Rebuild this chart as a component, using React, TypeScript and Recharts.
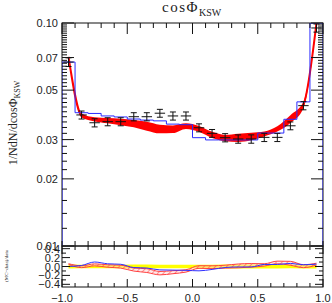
import React from 'react';
import { ComposedChart, Line, Area, Scatter, ErrorBar, XAxis, YAxis } from 'recharts';

// cos(phi_KSW) distribution: 20 bins from -1 to 1
const binCenters = [-0.95, -0.85, -0.75, -0.65, -0.55, -0.45, -0.35, -0.25, -0.15, -0.05, 0.05, 0.15, 0.25, 0.35, 0.45, 0.55, 0.65, 0.75, 0.85, 0.95];
const binEdges = [-1, -0.9, -0.8, -0.7, -0.6, -0.5, -0.4, -0.3, -0.2, -0.1, 0, 0.1, 0.2, 0.3, 0.4, 0.5, 0.6, 0.7, 0.8, 0.9, 1];

const dataValues = [0.0668, 0.0387, 0.0357, 0.0361, 0.0361, 0.038, 0.038, 0.0394, 0.0383, 0.0383, 0.0339, 0.032, 0.0306, 0.0302, 0.0302, 0.0307, 0.0307, 0.0346, 0.0426, 0.095];
const dataErrors = [0.003, 0.0016, 0.0015, 0.0015, 0.0015, 0.0016, 0.0016, 0.0016, 0.0016, 0.0016, 0.0014, 0.0013, 0.0013, 0.0013, 0.0013, 0.0013, 0.0013, 0.0014, 0.0018, 0.004];
const binHalfWidth = 0.04;

const blueValues = [0.0668, 0.0396, 0.0393, 0.0383, 0.0379, 0.0371, 0.0367, 0.0364, 0.0352, 0.035, 0.0306, 0.0299, 0.0299, 0.0299, 0.0299, 0.0321, 0.0321, 0.037, 0.0443, 0.1];

const redCentral = [0.0705, 0.0385, 0.037, 0.0365, 0.036, 0.0354, 0.0345, 0.0335, 0.0334, 0.0345, 0.0335, 0.0315, 0.0305, 0.0306, 0.031, 0.0318, 0.0335, 0.0371, 0.0429, 0.1];
const redSpread = [0.0005, 0.0008, 0.0008, 0.001, 0.0012, 0.0013, 0.0016, 0.0015, 0.0013, 0.001, 0.001, 0.001, 0.001, 0.0013, 0.0012, 0.0008, 0.0009, 0.0015, 0.0014, 0.002];

const yMajorTicks = [0.01, 0.02, 0.03, 0.05, 0.07, 0.1];
const yMajorLabels = ['0.01', '0.02', '0.03', '0.05', '0.07', '0.10'];
const yAllTicks = Array.from({ length: 46 }, (_, k) => (10 + 2 * k) / 1000);

const xMajorTicks = [-1, -0.5, 0, 0.5, 1];
const xMajorLabels = ['\u22121.0', '\u22120.5', '0.0', '0.5', '1.0'];

const ratioTicks = [-0.4, -0.3, -0.2, -0.1, 0, 0.1, 0.2, 0.3, 0.4];
const ratioMajorTicks = [-0.4, -0.2, 0, 0.2, 0.4];
const ratioMajorLabels = ['\u22120.4', '\u22120.2', '0.0', '0.2', '0.4'];

const Y_MIN = 0.01;
const Y_MAX = 0.1;

const mainRows = binCenters.map((x, i) => ({
  x,
  data: dataValues[i],
  err: dataErrors[i],
  xerr: binHalfWidth,
  red: redCentral[i],
  redBand: [redCentral[i] - redSpread[i], redCentral[i] + redSpread[i]],
}));

const blueSteps = [
  { x: -1, blue: Y_MIN },
  ...binEdges.slice(0, 20).map((x, i) => ({ x, blue: blueValues[i] })),
  { x: 1, blue: blueValues[19] },
  { x: 1, blue: Y_MIN },
];

const ratioRows = binCenters.map((x, i) => ({
  x,
  blue: blueValues[i] / dataValues[i] - 1,
  redBand: [
    (redCentral[i] - redSpread[i]) / dataValues[i] - 1,
    (redCentral[i] + redSpread[i]) / dataValues[i] - 1,
  ],
  dataBand: [-dataErrors[i] / dataValues[i], dataErrors[i] / dataValues[i]],
}));

// frame geometry (page pixels)
const LEFT = 62;
const RIGHT = 323;
const MAIN_TOP = 23;
const MAIN_BOTTOM = 246;
const RATIO_SVG_TOP = 238;
const RATIO_TOP = 8;
const RATIO_BOTTOM = 49;

const INK = '#111';
const SANS = '"Liberation Sans", Arial, sans-serif';
const SERIF = '"Liberation Serif", "Times New Roman", serif';

const MainXTick = (props: any) => {
  const { x, payload } = props;
  const len = xMajorTicks.includes(payload.value) ? 11 : 5;
  return (
    <g>
      <line x1={x} x2={x} y1={MAIN_BOTTOM} y2={MAIN_BOTTOM - 5} stroke={INK} />
      <line x1={x} x2={x} y1={MAIN_TOP} y2={MAIN_TOP + len} stroke={INK} />
    </g>
  );
};

const MainYTick = (props: any) => {
  const { y, payload } = props;
  const idx = yMajorTicks.indexOf(payload.value);
  const len = idx >= 0 ? 12 : 5;
  return (
    <g>
      <line x1={LEFT} x2={LEFT + len} y1={y} y2={y} stroke={INK} />
      <line x1={RIGHT} x2={RIGHT - len} y1={y} y2={y} stroke={INK} />
      {idx >= 0 && (
        <text x={LEFT - 4} y={y + 4} textAnchor="end" fontSize={11} fontFamily={SANS} fill="#222">
          {yMajorLabels[idx]}
        </text>
      )}
    </g>
  );
};

const RatioXTick = (props: any) => {
  const { x, payload } = props;
  const idx = xMajorTicks.indexOf(payload.value);
  const len = idx >= 0 ? 8 : 4;
  return (
    <g>
      <line x1={x} x2={x} y1={RATIO_TOP} y2={RATIO_TOP + len} stroke={INK} />
      <line x1={x} x2={x} y1={RATIO_BOTTOM} y2={RATIO_BOTTOM - len} stroke={INK} />
      {idx >= 0 && (
        <text x={x} y={RATIO_BOTTOM + 15} textAnchor="middle" fontSize={11} fontFamily={SANS} fill="#222">
          {xMajorLabels[idx]}
        </text>
      )}
    </g>
  );
};

const RatioYTick = (props: any) => {
  const { y, payload } = props;
  const idx = ratioMajorTicks.indexOf(payload.value);
  const len = idx >= 0 ? 8 : 4;
  return (
    <g>
      <line x1={LEFT} x2={LEFT + len} y1={y} y2={y} stroke={INK} />
      <line x1={RIGHT} x2={RIGHT - len} y1={y} y2={y} stroke={INK} />
      {idx >= 0 && (
        <text x={LEFT - 2} y={y + 4} textAnchor="end" fontSize={11} fontFamily={SANS} fill="#222">
          {ratioMajorLabels[idx]}
        </text>
      )}
    </g>
  );
};

export default function App() {
  return (
    <div style={{ position: 'absolute', left: 0, top: 0, width: 332, height: 303, background: '#fff' }}>
      <svg width={332} height={303} style={{ position: 'absolute', left: 0, top: 0 }}>
        <rect x={LEFT} y={MAIN_TOP} width={RIGHT - LEFT} height={MAIN_BOTTOM - MAIN_TOP} fill="none" stroke={INK} />
        <rect x={LEFT} y={MAIN_BOTTOM} width={RIGHT - LEFT} height={RATIO_BOTTOM - RATIO_TOP} fill="none" stroke={INK} />
        <text x={162} y={12} fontSize={15} fontFamily={SERIF} letterSpacing={1.5} fill="#222">
          cosΦ
          <tspan fontSize={10} dy={4} letterSpacing={0}>KSW</tspan>
        </text>
        <text
          transform="translate(17,123) rotate(-90)"
          textAnchor="middle"
          fontSize={12}
          fontFamily={SERIF}
          fill="#222"
        >
          1/NdN/dcosΦ
          <tspan fontSize={8} dy={3}>KSW</tspan>
        </text>
        <text transform="translate(7.5,266) rotate(-90)" textAnchor="middle" fontSize={5} fontFamily={SERIF} fill="#222">
          (MC−data)/data
        </text>
      </svg>

      <div style={{ position: 'absolute', left: 0, top: 0 }}>
        <ComposedChart width={332} height={258} data={mainRows} margin={{ top: MAIN_TOP, right: 9, bottom: 11, left: 12 }}>
          <XAxis
            dataKey="x"
            type="number"
            domain={[-1, 1]}
            allowDataOverflow
            ticks={binEdges}
            interval={0}
            height={1}
            tickSize={0}
            tickMargin={0}
            axisLine={false}
            tickLine={false}
            tick={(p: any) => <MainXTick {...p} />}
          />
          <YAxis
            type="number"
            scale="log"
            domain={[Y_MIN, Y_MAX]}
            allowDataOverflow
            ticks={yAllTicks}
            interval={0}
            width={50}
            tickSize={0}
            tickMargin={0}
            axisLine={false}
            tickLine={false}
            tick={(p: any) => <MainYTick {...p} />}
          />
          <Area
            dataKey="redBand"
            type="monotone"
            fill="#ff0000"
            fillOpacity={1}
            stroke="none"
            isAnimationActive={false}
          />
          <Line dataKey="red" type="monotone" stroke="#ff0000" strokeWidth={2} dot={false} isAnimationActive={false} />
          <Line
            data={blueSteps}
            dataKey="blue"
            type="stepAfter"
            stroke="#2a2aff"
            strokeWidth={1}
            dot={false}
            isAnimationActive={false}
          />
          <Scatter dataKey="data" fill="none" shape={() => <g />} isAnimationActive={false}>
            <ErrorBar dataKey="err" direction="y" width={3} stroke={INK} strokeWidth={1} />
            <ErrorBar dataKey="xerr" direction="x" width={0} stroke={INK} strokeWidth={1} />
          </Scatter>
        </ComposedChart>
      </div>

      <div style={{ position: 'absolute', left: 0, top: RATIO_SVG_TOP }}>
        <ComposedChart width={332} height={65} data={ratioRows} margin={{ top: RATIO_TOP, right: 9, bottom: 15, left: 12 }}>
          <defs>
            <pattern id="hatch" width="4" height="4" patternUnits="userSpaceOnUse" patternTransform="rotate(45)">
              <rect width="4" height="4" fill="#ffd6d6" fillOpacity={0.5} />
              <line x1="0" y1="0" x2="0" y2="4" stroke="#ff3030" strokeWidth={1} />
            </pattern>
          </defs>
          <XAxis
            dataKey="x"
            type="number"
            domain={[-1, 1]}
            allowDataOverflow
            ticks={binEdges}
            interval={0}
            height={1}
            tickSize={0}
            tickMargin={0}
            axisLine={false}
            tickLine={false}
            tick={(p: any) => <RatioXTick {...p} />}
          />
          <YAxis
            type="number"
            domain={[-0.46, 0.46]}
            allowDataOverflow
            ticks={ratioTicks}
            interval={0}
            width={50}
            tickSize={0}
            tickMargin={0}
            axisLine={false}
            tickLine={false}
            tick={(p: any) => <RatioYTick {...p} />}
          />
          <Area dataKey="dataBand" type="linear" fill="#ffff00" fillOpacity={1} stroke="none" isAnimationActive={false} />
          <Area
            dataKey="redBand"
            type="monotone"
            fill="url(#hatch)"
            fillOpacity={1}
            stroke="#ff4040"
            strokeWidth={1}
            isAnimationActive={false}
          />
          <Line dataKey="blue" type="monotone" stroke="#3030ff" strokeWidth={1} dot={false} isAnimationActive={false} />
        </ComposedChart>
      </div>
    </div>
  );
}
